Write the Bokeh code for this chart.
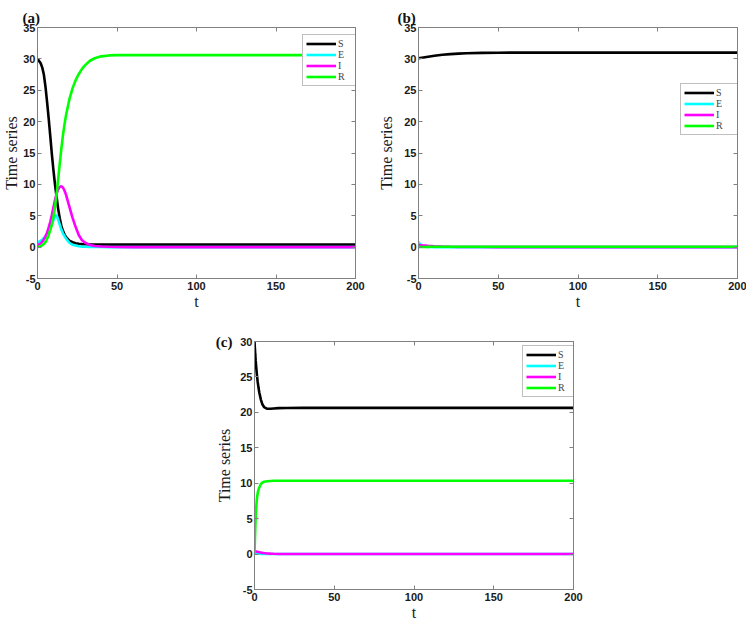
from bokeh.plotting import figure
from bokeh.models import FixedTicker, LinearAxis, Spacer, Range1d
from bokeh.layouts import row, column
from bokeh.embed import file_html
from bokeh.resources import INLINE

# ---------------- data ----------------
series_names = ["S", "E", "I", "R"]
series_colors = ["#000000", "#00FFFF", "#FF00FF", "#00FF00"]
x_ticks = [0, 50, 100, 150, 200]
y_ticks_ab = [-5, 0, 5, 10, 15, 20, 25, 30, 35]
y_ticks_c = [-5, 0, 5, 10, 15, 20, 25, 30]

# panel (a)
t_a = [0, 2, 3, 4, 5, 6, 7, 8, 9, 10, 11, 12, 13, 14, 15, 16, 17, 18, 20, 22,
       24, 26, 28, 30, 33, 36, 40, 45, 50, 60, 80, 100, 150, 200]
S_a = [30.0, 29.3, 28.6, 27.5, 25.6, 23.2, 20.6, 17.8, 14.9, 12.3, 10.0, 8.0, 6.1, 4.6, 3.4, 2.6, 2.0, 1.6, 1.05, 0.78,
       0.62, 0.53, 0.48, 0.45, 0.42, 0.41, 0.40, 0.40, 0.40, 0.40, 0.40, 0.40, 0.40, 0.40]
E_a = [0.8, 1.0, 1.2, 1.45, 1.75, 2.1, 2.55, 3.05, 3.6, 4.3, 4.95, 5.1, 4.4, 3.6, 2.8, 2.2, 1.75, 1.35, 0.7, 0.38,
       0.25, 0.14, 0.08, 0.05, 0.03, 0.02, 0.01, 0.0, 0.0, 0.0, 0.0, 0.0, 0.0, 0.0]
I_a = [0.3, 0.6, 0.85, 1.2, 1.7, 2.3, 3.1, 4.0, 5.1, 6.3, 7.5, 8.5, 9.2, 9.6, 9.7, 9.5, 9.0, 8.3, 6.5, 4.7,
       3.2, 1.9, 1.1, 0.7, 0.35, 0.18, 0.1, 0.05, 0.02, 0.0, 0.0, 0.0, 0.0, 0.0]
R_a = [0.0, 0.15, 0.3, 0.5, 0.8, 1.3, 1.9, 2.7, 3.6, 4.8, 6.4, 8.4, 10.8, 13.3, 15.7, 17.8, 19.6, 21.1, 23.5, 25.3,
       26.6, 27.6, 28.4, 29.0, 29.7, 30.1, 30.4, 30.55, 30.6, 30.6, 30.6, 30.6, 30.6, 30.6]

# panel (b)
t_b = [0, 1, 2, 3, 4, 6, 8, 10, 15, 20, 25, 30, 40, 50, 60, 80, 100, 150, 200]
S_b = [30.1, 30.14, 30.18, 30.22, 30.26, 30.34, 30.42, 30.5, 30.65, 30.76, 30.84, 30.89, 30.95, 30.98, 31.0, 31.0,
       31.0, 31.0, 31.0]
E_b = [0.8, 0.45, 0.25, 0.14, 0.08, 0.03, 0.01, 0.0, 0.0, 0.0, 0.0, 0.0, 0.0, 0.0, 0.0, 0.0, 0.0, 0.0, 0.0]
I_b = [0.3, 0.3, 0.28, 0.26, 0.24, 0.2, 0.17, 0.14, 0.08, 0.05, 0.03, 0.02, 0.01, 0.0, 0.0, 0.0, 0.0, 0.0, 0.0]
R_b = [0.0, 0.01, 0.02, 0.03, 0.03, 0.04, 0.05, 0.05, 0.05, 0.05, 0.05, 0.05, 0.05, 0.05, 0.05, 0.05, 0.05, 0.05,
       0.05]

# panel (c)
t_c = [0, 0.25, 0.5, 0.75, 1, 1.5, 2, 2.5, 3, 4, 5, 6, 8, 10, 12, 15, 20, 30, 50, 100, 150, 200]
S_c = [30.0, 29.0, 28.1, 27.3, 26.6, 25.3, 24.3, 23.5, 22.8, 21.8, 21.1, 20.75, 20.5, 20.5, 20.55, 20.6, 20.62,
       20.63, 20.63, 20.63, 20.63, 20.63]
E_c = [0.6, 0.48, 0.38, 0.3, 0.24, 0.16, 0.1, 0.07, 0.05, 0.02, 0.01, 0.0, 0.0, 0.0, 0.0, 0.0, 0.0, 0.0, 0.0, 0.0,
       0.0, 0.0]
I_c = [0.4, 0.4, 0.39, 0.38, 0.37, 0.34, 0.31, 0.28, 0.26, 0.21, 0.17, 0.14, 0.09, 0.06, 0.04, 0.02, 0.01, 0.0, 0.0,
       0.0, 0.0, 0.0]
R_c = [0.0, 2.0, 3.8, 5.3, 6.4, 7.8, 8.6, 9.1, 9.4, 9.9, 10.1, 10.2, 10.28, 10.32, 10.34, 10.35, 10.35, 10.35,
       10.35, 10.35, 10.35, 10.35]

# ---------------- styling helpers ----------------
GRAY = "#808080"
TICK_FONT = "Liberation Sans"
SERIF = "Liberation Serif"


def make_panel(t, ys, y_lo, y_hi, y_ticks, width, height, borders, legend_loc, ylab_standoff, top_gap):
    left, right, top, bottom = borders
    p = figure(width=width, height=height, x_range=(0, 200), y_range=(y_lo, y_hi),
               output_backend="svg", toolbar_location=None,
               min_border_left=left, min_border_right=right,
               min_border_top=top, min_border_bottom=bottom)
    p.grid.visible = False
    p.outline_line_color = GRAY
    p.background_fill_color = "white"
    p.border_fill_color = "white"

    for name, col, y in zip(series_names, series_colors, ys):
        p.line(t, y, line_color=col, line_width=2.6, legend_label=name)

    for ax in p.xaxis + p.yaxis:
        ax.axis_line_color = GRAY
        ax.major_tick_line_color = GRAY
        ax.minor_tick_line_color = None
        ax.major_tick_in = 4
        ax.major_tick_out = 0
        ax.major_label_text_font = TICK_FONT
        ax.major_label_text_font_style = "bold"
        ax.major_label_text_font_size = "11px"
        ax.major_label_text_color = "#1a1a1a"
        ax.axis_label_text_font = SERIF
        ax.axis_label_text_font_style = "normal"
        ax.axis_label_text_font_size = "16px"
        ax.axis_label_text_color = "#1a1a1a"
    p.xaxis.ticker = FixedTicker(ticks=x_ticks)
    p.yaxis.ticker = FixedTicker(ticks=y_ticks)
    p.yaxis.major_label_overrides = {-5: "-5"}
    p.xaxis.axis_label = "t"
    p.yaxis.axis_label = "Time series"
    p.xaxis.major_label_standoff = 3
    p.xaxis.axis_label_standoff = 0
    p.yaxis.major_label_standoff = 2
    p.yaxis.axis_label_standoff = ylab_standoff

    # box ticks on the top and right sides (no labels)
    for side, tk, gap in (("above", x_ticks, top_gap), ("right", y_ticks, 0)):
        ax = LinearAxis(ticker=FixedTicker(ticks=tk), major_label_text_font_size="0px",
                        major_label_standoff=gap, axis_line_color=GRAY, major_tick_line_color=GRAY,
                        minor_tick_line_color=None, major_tick_in=4, major_tick_out=0)
        p.add_layout(ax, side)

    leg = p.legend[0]
    leg.location = legend_loc
    leg.label_text_font = SERIF
    leg.label_text_font_size = "10px"
    leg.label_height = 9
    leg.glyph_height = 9
    leg.glyph_width = 30
    leg.label_standoff = 2
    leg.spacing = 0
    leg.padding = 3
    leg.margin = 0
    leg.border_line_color = GRAY
    leg.border_line_width = 1
    leg.background_fill_color = "white"
    leg.background_fill_alpha = 1
    return p


def letter_title(p, letter, offset):
    p.title.text = letter
    p.title.align = "left"
    p.title.vertical_align = "top"
    p.title.offset = offset
    p.title.standoff = 0
    p.title.text_font = SERIF
    p.title.text_font_style = "bold"
    p.title.text_font_size = "15px"
    p.title.text_color = "#111111"


pa = make_panel(t_a, [S_a, E_a, I_a, R_a], -5, 35, y_ticks_ab,
                370, 318, (37, 15, 27, 40), (265, 192), 0, 7)
letter_title(pa, "(a)", -15)
pb = make_panel(t_b, [S_b, E_b, I_b, R_b], -5, 35, y_ticks_ab,
                376, 318, (48, 9, 27, 40), (262, 143), 6, 7)
letter_title(pb, "(b)", -21)
pc = make_panel(t_c, [S_c, E_c, I_c, R_c], -5, 30, y_ticks_c,
                390, 308, (54, 17, 23, 37), (268, 192), 4, 0)

# panel letter (c): a label-only axis whose single tick sits at the top of the frame
pc.extra_y_ranges = {"letter": Range1d(0, 1)}
lab_axis = LinearAxis(y_range_name="letter", ticker=FixedTicker(ticks=[1]),
                      major_label_overrides={1: "(c)"}, axis_line_color=None,
                      major_tick_line_color=None, minor_tick_line_color=None,
                      major_tick_in=0, major_tick_out=0, major_label_standoff=-19,
                      major_label_text_font=SERIF, major_label_text_font_style="bold",
                      major_label_text_font_size="15px", major_label_text_color="#111111")
pc.add_layout(lab_axis, "left")

layout = column(row(pa, pb), row(Spacer(width=200, height=308), pc))

open("out.html", "w").write(file_html(layout, INLINE))
